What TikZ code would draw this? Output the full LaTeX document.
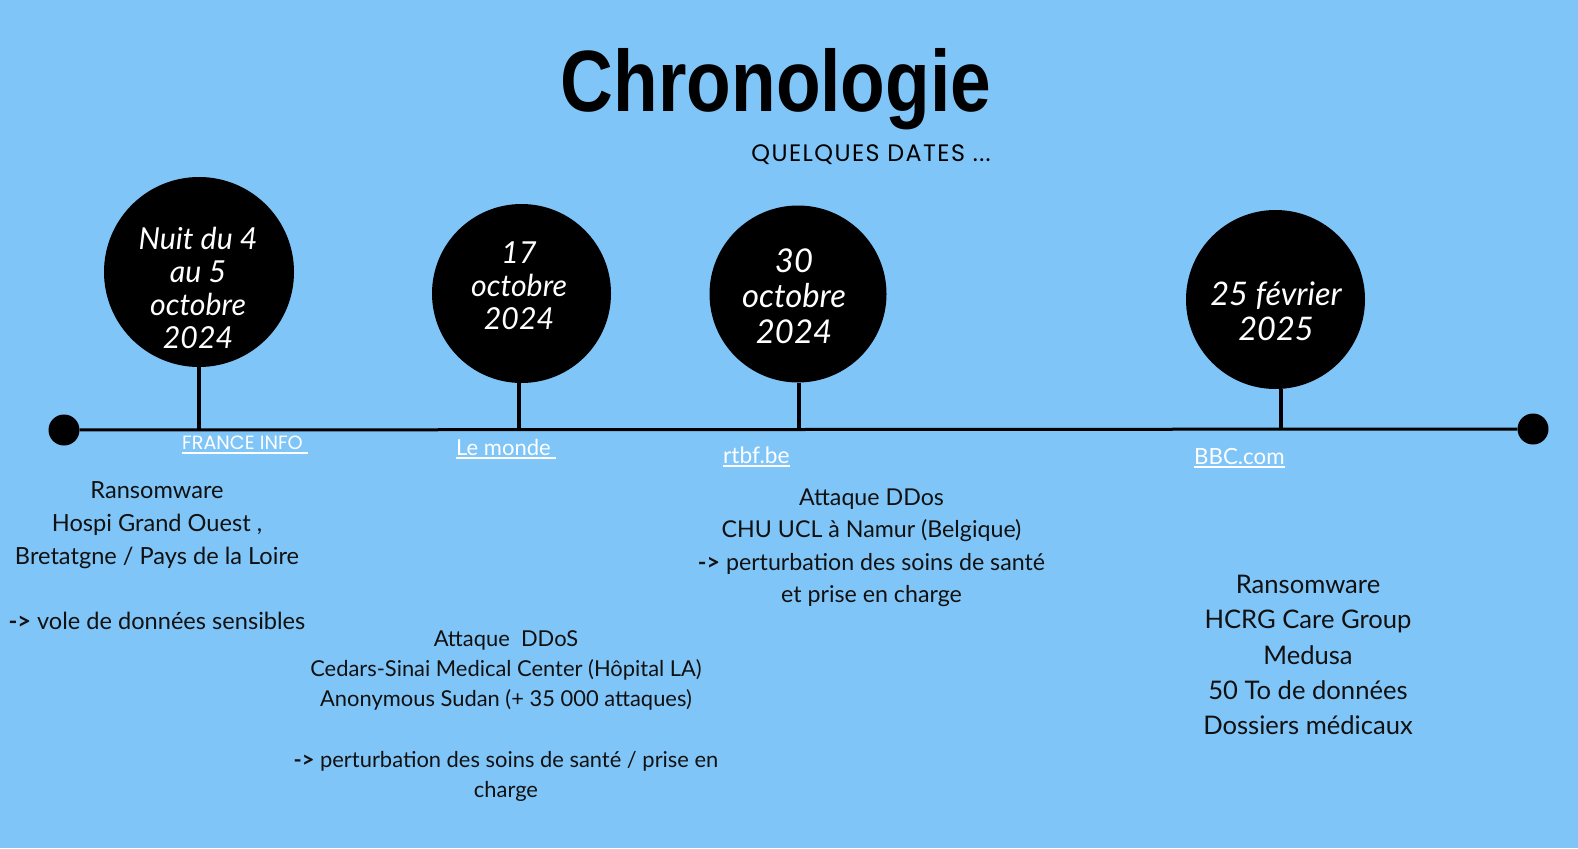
\documentclass[tikz,border=0pt]{standalone}
\usepackage{fontspec}
\setmainfont{Lato}
\newfontfamily\poppins{Poppins}
\newfontfamily\poppinsspaced[LetterSpace=6]{Poppins}
\newfontfamily\titlefont[FakeStretch=0.84]{Liberation Sans}
\definecolor{bgblue}{HTML}{80C5F8}
\definecolor{ink}{HTML}{111111}
\newcommand{\arr}{\textbf{->}}
\tikzset{
  datecircle/.style={circle, fill=black, inner sep=0pt},
  enddot/.style={circle, fill=black, inner sep=0pt, minimum size=31pt},
  tline/.style={line width=3pt, black},
  stemline/.style={line width=3.2pt, black},
  datetext/.style={text=white, align=center, inner sep=0pt, font=\itshape},
  body/.style={text=ink, align=center, inner sep=0pt},
  linktext/.style={text=white, inner sep=0pt, anchor=base west},
  uline/.style={white, line width=1.3pt}
}
\begin{document}
\begin{tikzpicture}[x=1pt,y=-1pt]
\fill[bgblue] (0,0) rectangle (1578,848);
\useasboundingbox (0,0) rectangle (1578,848);

% title
\node[anchor=base, inner sep=0pt] (title) at (776,111) {\titlefont\bfseries\fontsize{87}{90}\selectfont Chronologie};
\node[anchor=base, inner sep=0pt] (sub) at (871,161) {\poppinsspaced\fontsize{23.8}{26}\selectfont QUELQUES DATES ...};

% timeline
\node[enddot] (dL) at (64,430) {};
\node[enddot] (dR) at (1533,429) {};
\draw[tline] (dL) -- (dR);

\coordinate (s1) at (199,429.8);
\coordinate (s2) at (519,429.5);
\coordinate (s3) at (799,429.3);
\coordinate (s4) at (1281,429.1);

% circles
\node[datecircle, minimum size=190pt] (c1) at (199,272) {};
\node[datecircle, minimum size=179pt] (c2) at (521.5,293.5) {};
\node[datecircle, minimum size=177pt] (c3) at (798,294) {};
\node[datecircle, minimum size=179pt] (c4) at (1275.5,299.5) {};

\draw[stemline] (s1 |- c1.south) -- (s1);
\draw[stemline] (s2 |- c2.south) -- (s2);
\draw[stemline] (s3 |- c3.south) -- (s3);
\draw[stemline] (s4 |- c4.south) -- (s4);

\node[datetext, font=\itshape\fontsize{30.3}{33}\selectfont] (t1) at (198,288) {Nuit du 4\\au 5\\octobre\\2024};
\node[datetext, font=\itshape\fontsize{30.3}{33}\selectfont] (t2) at (519,286) {17\\octobre\\2024};
\node[datetext, font=\itshape\fontsize{32.8}{35.5}\selectfont] (t3) at (794,296) {30\\octobre\\2024};
\node[datetext, font=\itshape\fontsize{32.5}{35}\selectfont] (t4) at (1276,311) {25 février\\2025};

% links
\node[linktext, font=\poppins\fontsize{19.2}{22}\selectfont] (l1) at (182,449) {FRANCE INFO\kern5pt};
\node[linktext, font=\fontsize{22}{25}\selectfont] (l2) at (456,455) {Le monde\kern5pt};
\node[linktext, font=\fontsize{22.7}{25}\selectfont] (l3) at (723,463) {rtbf.be};
\node[linktext, font=\fontsize{22.3}{25}\selectfont] (l4) at (1194,464) {BBC.com};
\draw[uline] ([yshift=-4pt]l1.base west) -- ([yshift=-4pt]l1.base east);
\draw[uline] ([yshift=-3pt]l2.base west) -- ([yshift=-3pt]l2.base east);
\draw[uline] ([yshift=-3pt]l3.base west) -- ([yshift=-3pt]l3.base east);
\draw[uline] ([yshift=-3pt]l4.base west) -- ([yshift=-3pt]l4.base east);

% descriptions
\node[body, font=\fontsize{23.6}{32.7}\selectfont] (b1) at (157,556) {Ransomware\\Hospi Grand Ouest ,\\ Bretatgne / Pays de la Loire\\[32.7pt]\arr{} vole de données sensibles};
\node[body, font=\fontsize{21.9}{30.2}\selectfont] (b2) at (506,716) {Attaque\ \ DDoS\\Cedars-Sinai Medical Center (Hôpital LA)\\Anonymous Sudan (+ 35 000 attaques)\\[30.2pt]\arr{} perturbation des soins de santé / prise en\\charge};
\node[body, font=\fontsize{23.2}{32.5}\selectfont] (b3) at (871.5,548) {Attaque DDos\\CHU UCL à Namur (Belgique)\\\arr{} perturbation des soins de santé\\et prise en charge};
\node[body, font=\fontsize{25.6}{35.2}\selectfont] (b4) at (1308,655) {Ransomware\\HCRG Care Group\\Medusa\\50 To de données\\Dossiers médicaux};
\end{tikzpicture}
\end{document}
